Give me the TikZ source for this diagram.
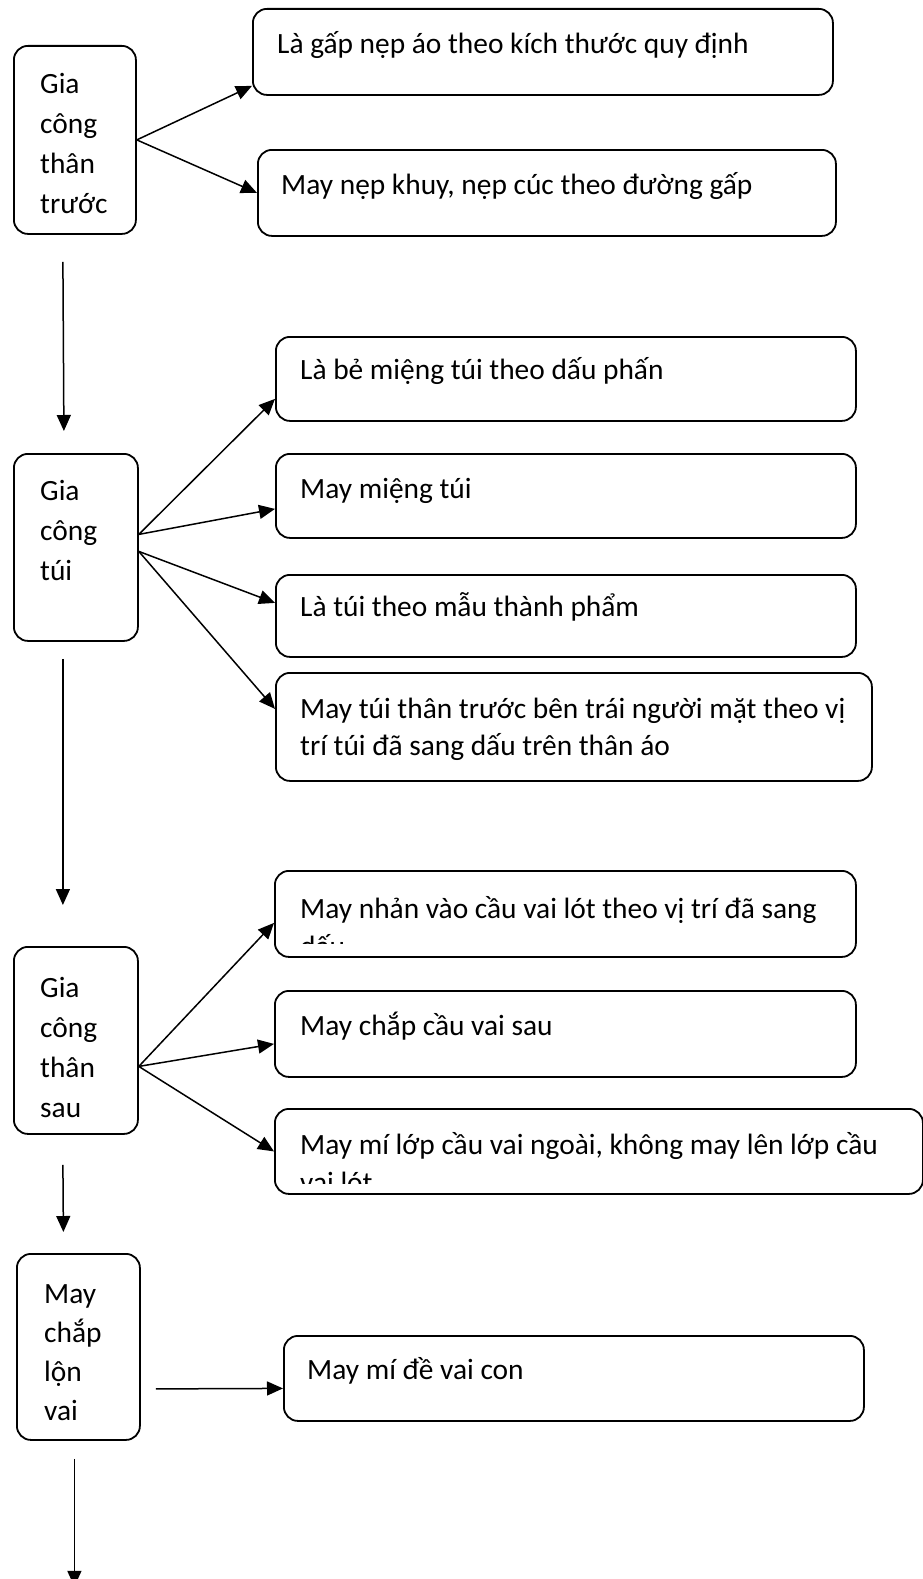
\documentclass[tikz,border=0pt]{standalone}
\usepackage{fontspec}
\setmainfont{Carlito}
\usetikzlibrary{arrows.meta}

\begin{document}
\begin{tikzpicture}[x=1pt, y=-1pt,
  box/.style={draw, line width=1.8pt, rounded corners=14pt, anchor=north west, inner sep=0pt},
  txt/.style={anchor=base west, inner sep=0pt, align=left, font=\fontsize{29.4}{40}\selectfont},
  arr/.style={line width=1.5pt, -{Triangle[length=16pt, width=14pt]}}]
  \useasboundingbox (0,0) rectangle (923,1579);
  % gia cong than truoc (multi-line texts sit on their last baseline)
  \node[box, minimum width=122, minimum height=188] (ga) at (13,45) {};
  \node[txt] (gat) at (40,213) {Gia\\công\\thân\\trước};
  \node[box, minimum width=580, minimum height=86] (a1) at (252,8) {};
  \node[txt] (a1t) at (277,53) {Là gấp nẹp áo theo kích thước quy định};
  \node[box, minimum width=578, minimum height=86] (a2) at (257,149) {};
  \node[txt] (a2t) at (281,194) {May nẹp khuy, nẹp cúc theo đường gấp};
  \draw[arr] (ga.east) -- ([yshift=-34pt]a1.west);
  \draw[arr] (ga.east) -- (a2.west);
  % gia cong tui
  \node[box, minimum width=124, minimum height=187] (gb) at (13,453) {};
  \node[txt] (gbt) at (40,580) {Gia\\công\\túi};
  \node[box, minimum width=580, minimum height=84] (b1) at (275,336) {};
  \node[txt] (b1t) at (300,379) {Là bẻ miệng túi theo dấu phấn};
  \node[box, minimum width=580, minimum height=84] (b2) at (275,453) {};
  \node[txt] (b2t) at (300,498) {May miệng túi};
  \node[box, minimum width=580, minimum height=82] (b3) at (275,574) {};
  \node[txt] (b3t) at (300,616) {Là túi theo mẫu thành phẩm};
  \node[box, minimum width=596, minimum height=108] (b4) at (275,672) {};
  \node[txt, font=\fontsize{29.4}{37}\selectfont] (b4t) at (300,755) {May túi thân trước bên trái người mặt theo vị\\trí túi đã sang dấu trên thân áo};
  \draw[arr] ([xshift=-12pt, yshift=-27pt]ga.south) -- ([xshift=-12pt, yshift=22pt]gb.north);
  \draw[arr] ([yshift=13pt]gb.east) -- ([yshift=-20pt]b1.west);
  \draw[arr] ([yshift=13pt]gb.east) -- ([yshift=-13pt]b2.west);
  \draw[arr] ([yshift=-4pt]gb.east) -- ([yshift=13pt]b3.west);
  \draw[arr] ([yshift=-4pt]gb.east) -- ([yshift=18pt]b4.west);
  % gia cong than sau
  \node[box, minimum width=124, minimum height=187] (gc) at (13,946) {};
  \node[txt] (gct) at (40,1117) {Gia\\công\\thân\\sau};
  \node[box, minimum width=581, minimum height=86] (c1) at (274,870) {};
  \begin{scope}
    \clip (274,870) rectangle (855,943);
    \node[txt, font=\fontsize{29.4}{38}\selectfont] (c1t) at (300,956) {May nhản vào cầu vai lót theo vị trí đã sang\\dấu};
  \end{scope}
  \node[box, minimum width=581, minimum height=86] (c2) at (274,990) {};
  \node[txt] (c2t) at (300,1035) {May chắp cầu vai sau};
  \node[box, minimum width=648, minimum height=85] (c3) at (274,1108) {};
  \begin{scope}
    \clip (274,1108) rectangle (922,1183);
    \node[txt, font=\fontsize{29.4}{38}\selectfont] (c3t) at (300,1192) {May mí lớp cầu vai ngoài, không may lên lớp cầu\\vai lót};
  \end{scope}
  \draw[arr] ([xshift=-13pt, yshift=-17pt]gb.south) -- ([xshift=-13pt, yshift=41pt]gc.north);
  \draw[arr] ([yshift=-26pt]gc.east) -- ([yshift=-9pt]c1.west);
  \draw[arr] ([yshift=-26pt]gc.east) -- ([yshift=-10pt]c2.west);
  \draw[arr] ([yshift=-26pt]gc.east) -- (c3.west);
  % may chap lon vai
  \node[box, minimum width=123, minimum height=186] (gd) at (16,1253) {};
  \node[txt, font=\fontsize{29.4}{39}\selectfont] (gdt) at (44,1420) {May\\chắp\\lộn\\vai};
  \node[box, minimum width=580, minimum height=85] (d1) at (283,1335) {};
  \node[txt] (d1t) at (307,1379) {May mí đề vai con};
  \draw[arr] ([xshift=-13pt, yshift=-30pt]gc.south) -- ([xshift=-15pt, yshift=21pt]gd.north);
  \draw[arr] ([xshift=15pt, yshift=-42pt]gd.east) -- ([yshift=-10pt]d1.west);
  \draw[arr] ([xshift=-4pt, yshift=-18pt]gd.south) -- ++(0,128);
\end{tikzpicture}
\end{document}
